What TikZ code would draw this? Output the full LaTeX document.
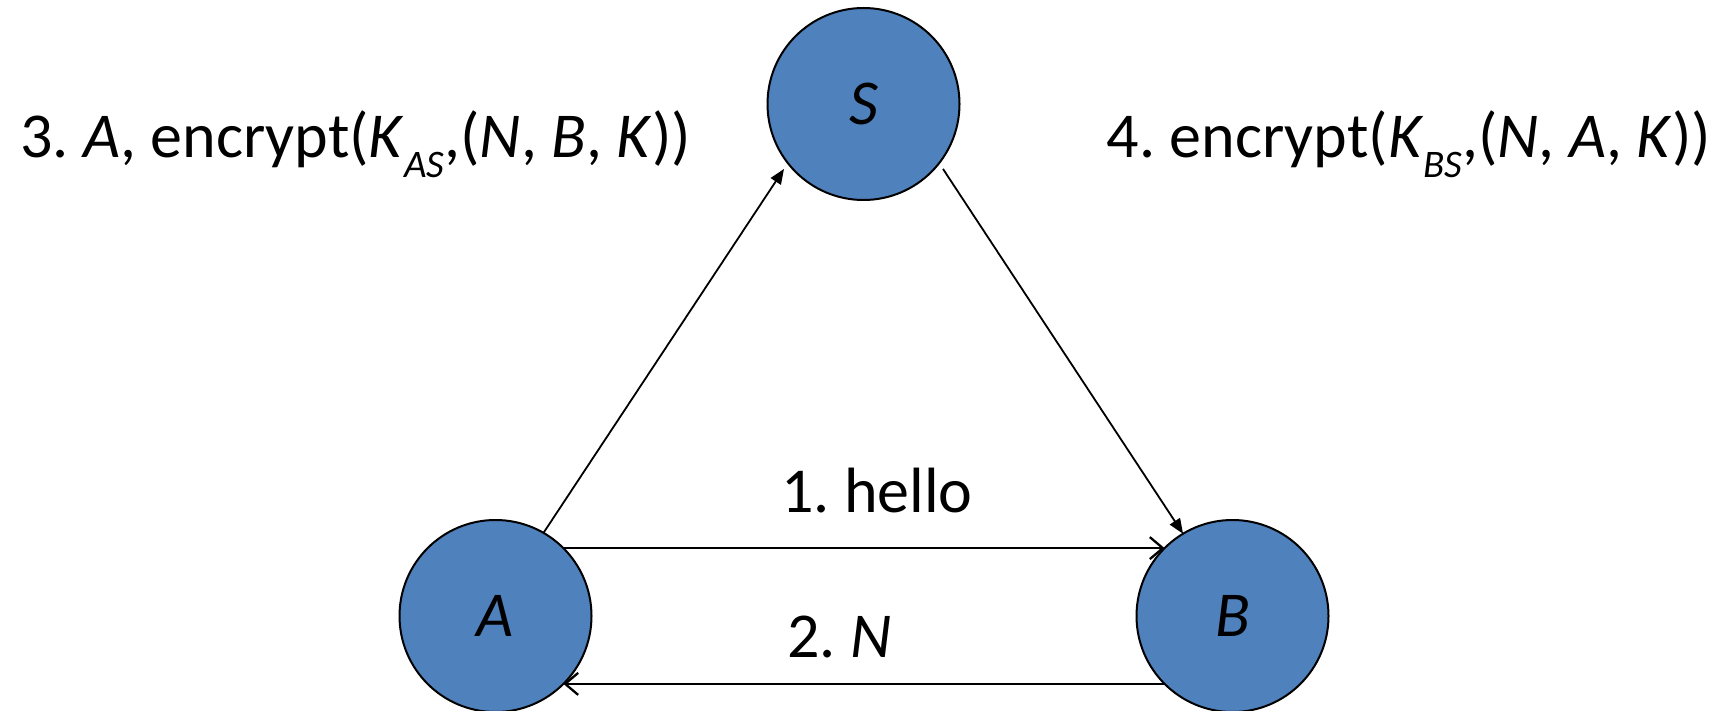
\documentclass[tikz,border=0pt]{standalone}
\usepackage{fontspec}
\setmainfont{Carlito}
\usetikzlibrary{arrows.meta}
\definecolor{partyblue}{HTML}{4F81BD}
\newcommand{\keysub}[1]{\raisebox{-20pt}{\fontsize{39}{39}\selectfont\itshape #1}}
\frenchspacing
\begin{document}
\begin{tikzpicture}[x=1pt,y=-1pt,
  party/.style={circle,draw=black,fill=partyblue,line width=2pt,
    minimum size=192pt,inner sep=0pt,outer sep=0pt,
    font=\fontsize{64}{77}\selectfont\itshape},
  msg/.style={inner sep=0pt,outer sep=0pt,
    font=\fontsize{64}{77}\selectfont},
  toserver/.style={line width=1.8pt,-{Triangle[length=15pt,width=12pt]}},
  direct/.style={line width=2.5pt,-{Straight Barb[length=13pt,width=22pt,line width=2.3pt]}}]
  \useasboundingbox (0,0) rectangle (1721,711);

  % principals
  \node[party] (S) at (863.5,104) {S};
  \node[party] (A) at (495.5,616) {A};
  \node[party] (B) at (1232.5,616) {B};

  % protocol messages
  \draw[direct] (A.45) -- (B.135);
  \draw[direct] (B.-135) -- (A.-45);
  \draw[toserver,shorten >=7pt] (A.60) -- (S.218);
  \draw[toserver,shorten <=7pt] (S.-38) -- (B.121);

  % message labels
  \node[msg,anchor=base west] (l1) at (781,512) {1. hello};
  \node[msg,anchor=base west] (l2) at (787,657) {2. \textit{N}};
  \node[msg,anchor=base west] (l3) at (20,158) {3. \textit{A}, encrypt(\textit{K}\keysub{AS},(\textit{N}, \textit{B}, \textit{K}))};
  \node[msg,anchor=base east] (l4) at (1711,158) {4. encrypt(\textit{K}\keysub{BS},(\textit{N}, \textit{A}, \textit{K}))};
\end{tikzpicture}
\end{document}
